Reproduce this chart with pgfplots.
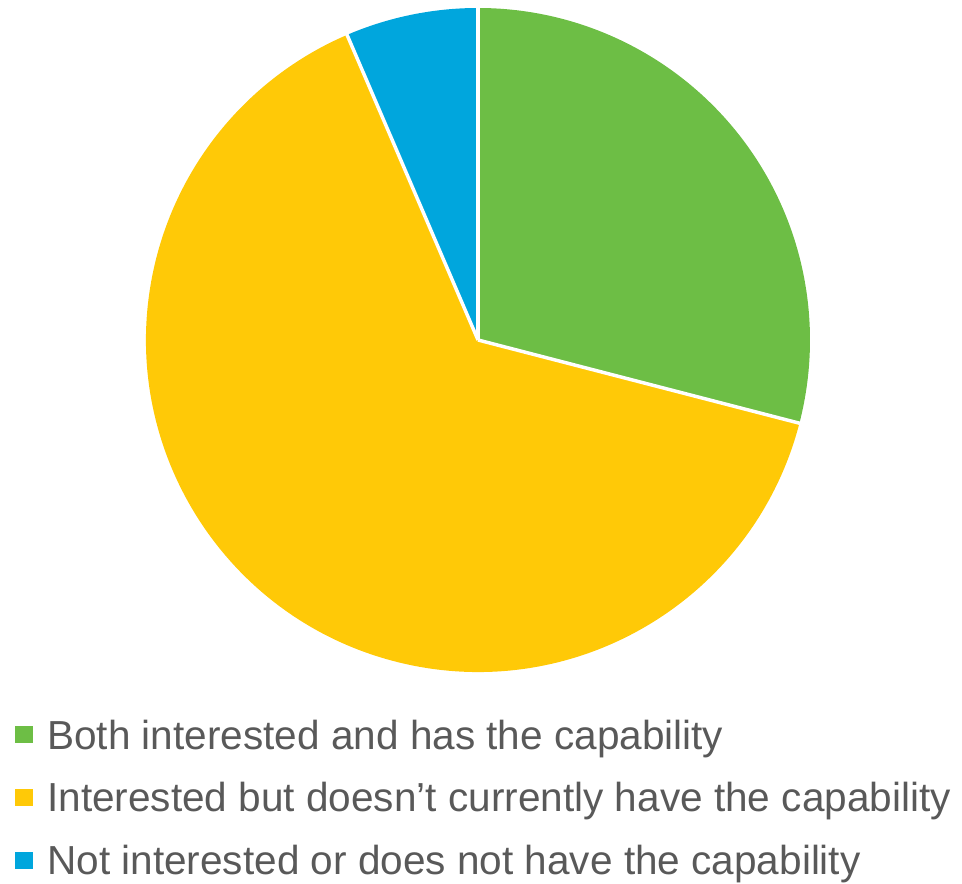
\documentclass[border=0pt]{standalone}
\usepackage{pgfplots}
\usepackage{pgfplotstable}
\pgfplotsset{compat=1.18}
\usepackage{fontspec}
\setmainfont{Liberation Sans}

\definecolor{pgreen}{HTML}{6DBE45}
\definecolor{pyellow}{HTML}{FFC907}
\definecolor{pblue}{HTML}{00A6DD}
\definecolor{txtgray}{HTML}{595959}

% counts per answer (of 31)
\pgfplotstableread{
share
9
20
2
}\piedata

\begin{document}
\begin{tikzpicture}
\pgfplotstablegetelem{0}{share}\of\piedata \let\vA\pgfplotsretval
\pgfplotstablegetelem{1}{share}\of\piedata \let\vB\pgfplotsretval
\pgfplotstablegetelem{2}{share}\of\piedata \let\vC\pgfplotsretval
\pgfmathsetmacro\tot{\vA+\vB+\vC}
\pgfmathsetmacro\aA{90}
\pgfmathsetmacro\aB{\aA-360*\vA/\tot}
\pgfmathsetmacro\aC{\aB-360*\vB/\tot}
\pgfmathsetmacro\aD{\aC-360*\vC/\tot}
\def\R{249pt}
\begin{axis}[
  x=0.75pt, y=0.75pt,
  xmin=0, xmax=962, ymin=0, ymax=883,
  hide axis, clip=false,
]
\path (axis cs:0,0) rectangle (axis cs:962,883);
\fill[pgreen]  (axis cs:478,543) -- ++(\aA:\R) arc[start angle=\aA, end angle=\aB, radius=\R] -- cycle;
\fill[pyellow] (axis cs:478,543) -- ++(\aB:\R) arc[start angle=\aB, end angle=\aC, radius=\R] -- cycle;
\fill[pblue]   (axis cs:478,543) -- ++(\aC:\R) arc[start angle=\aC, end angle=\aD, radius=\R] -- cycle;
\draw[white, line width=2.6pt] (axis cs:478,543) -- ++(\aA:\R+1pt);
\draw[white, line width=2.6pt] (axis cs:478,543) -- ++(\aB:\R+1pt);
\draw[white, line width=2.6pt] (axis cs:478,543) -- ++(\aC:\R+1pt);

\fill[pgreen]  (axis cs:15,140) rectangle (axis cs:33,157);
\fill[pyellow] (axis cs:15,77) rectangle (axis cs:33,94);
\fill[pblue]   (axis cs:15,14) rectangle (axis cs:33,31);
\begin{scope}[every node/.style={anchor=base west, inner sep=0pt, text=txtgray, font=\fontsize{30.4}{36}\selectfont}]
\node at (axis cs:47,133) {Both interested and has the capability};
\node at (axis cs:47,71) {Interested but doesn’t currently have the capability};
\node at (axis cs:47,8) {Not interested or does not have the capability};
\end{scope}
\end{axis}
\end{tikzpicture}
\end{document}
